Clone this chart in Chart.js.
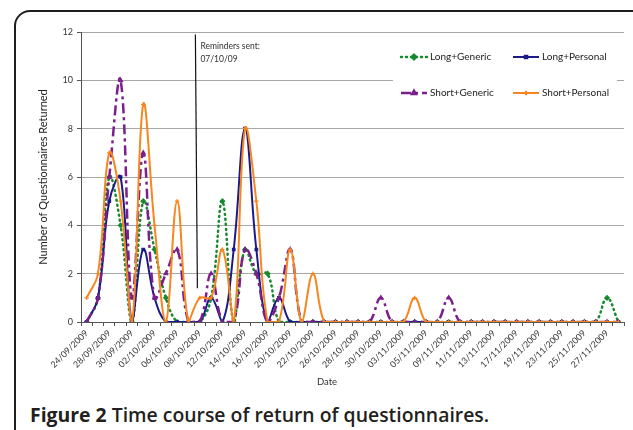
<!DOCTYPE html>
<html>
<head>
<meta charset="utf-8">
<script src="https://cdn.jsdelivr.net/npm/chart.js@4.4.1/dist/chart.umd.min.js"></script>
<style>
  html, body { margin: 0; padding: 0; width: 633px; height: 430px; overflow: hidden; background: #fff; }
  #frame { position: absolute; left: 14px; top: 10px; width: 700px; height: 520px; border: 2px solid #1e1e1e; border-radius: 16px; }
  #wrap { position: absolute; left: 0; top: 0; width: 633px; height: 400px; }
  #caption { position: absolute; left: 30px; top: 401px; font-family: "Open Sans"; font-size: 19.4px; font-weight: 600; color: #231f20; white-space: nowrap; }
  #caption b { font-weight: 700; }
</style>
</head>
<body>
<div id="frame"></div>
<div id="wrap"><canvas id="returnsChart" width="633" height="400"></canvas></div>
<div id="caption"><b>Figure 2</b> Time course of return of questionnaires.</div>
<script>
// working days on the category axis, only every second one is labelled
var dates = ['24/09/2009', '25/09/2009', '28/09/2009', '29/09/2009', '30/09/2009',
  '01/10/2009', '02/10/2009', '05/10/2009', '06/10/2009', '07/10/2009', '08/10/2009', '09/10/2009',
  '12/10/2009', '13/10/2009', '14/10/2009', '15/10/2009', '16/10/2009', '19/10/2009', '20/10/2009',
  '21/10/2009', '22/10/2009', '23/10/2009', '26/10/2009', '27/10/2009', '28/10/2009', '29/10/2009',
  '30/10/2009', '02/11/2009', '03/11/2009', '04/11/2009', '05/11/2009', '06/11/2009', '09/11/2009',
  '10/11/2009', '11/11/2009', '12/11/2009', '13/11/2009', '16/11/2009', '17/11/2009', '18/11/2009',
  '19/11/2009', '20/11/2009', '23/11/2009', '24/11/2009', '25/11/2009', '26/11/2009', '27/11/2009',
  '30/11/2009'];
var labelEvery = 2;

var longGeneric   = [0,1,6,4,0,5,3,1,0,0, 0,1,5,0,3,2,2,0,0,0, 0,0,0,0,0,0,0,0,0,0, 0,0,0,0,0,0,0,0,0,0, 0,0,0,0,0,0,1,0];
var longPersonal  = [0,1,5,6,0,3,1,0,0,0, 0,1,0,3,8,3,0,1,0,0, 0,0,0,0,0,0,0,0,0,0, 0,0,0,0,0,0,0,0,0,0, 0,0,0,0,0,0,0,0];
var shortGeneric  = [0,1,6,10,1,7,1,2,3,0, 0,2,0,0,3,2,0,1,3,0, 0,0,0,0,0,0,1,0,0,0, 0,0,1,0,0,0,0,0,0,0, 0,0,0,0,0,0,0,0];
var shortPersonal = [1,2,7,5,0,9,4,0,5,0, 1,1,3,0,8,5,0,0,3,0, 2,0,0,0,0,0,0,0,0,1, 0,0,0,0,0,0,0,0,0,0, 0,0,0,0,0,0,0,0];

var yTicks = [0, 2, 4, 6, 8, 10, 12];

// reminder annotation (category index, value range)
var reminder = { at: 9.7, from: 1.4, to: 11.9, text: ['Reminders sent:', '07/10/09'] };

Chart.defaults.font.family = 'Lato';

var series = [
  { label: 'Long+Generic', data: longGeneric, color: '#168a2e', dash: [1, 4], cap: 'round', width: 2.5, style: 'rectRot', r: 2.2, order: 4 },
  { label: 'Long+Personal', data: longPersonal, color: '#1a1a88', dash: [], cap: 'butt', width: 2, style: 'rect', r: 1.8, order: 3 },
  { label: 'Short+Generic', data: shortGeneric, color: '#7a1f8c', dash: [10, 4, 3, 4], cap: 'butt', width: 2.5, style: 'triangle', r: 2.2, order: 2 },
  { label: 'Short+Personal', data: shortPersonal, color: '#f7861f', dash: [], cap: 'butt', width: 2, style: 'cross', r: 2.2, order: 1 }
];

var overlay = {
  id: 'overlay',
  afterDraw: function(chart) {
    var ctx = chart.ctx, x = chart.scales.x, y = chart.scales.y, area = chart.chartArea;
    ctx.save();
    // reminder line
    var rx = x.getPixelForValue(reminder.at);
    ctx.strokeStyle = '#111';
    ctx.lineWidth = 1.2;
    ctx.beginPath();
    ctx.moveTo(rx - 1, y.getPixelForValue(reminder.to));
    ctx.lineTo(rx + 1, y.getPixelForValue(reminder.from));
    ctx.stroke();
    ctx.fillStyle = '#333';
    ctx.font = '8.5px Lato';
    ctx.textBaseline = 'middle';
    ctx.fillText(reminder.text[0], rx + 4, 46);
    ctx.fillText(reminder.text[1], rx + 4, 59);

    // legend box, 2 x 2
    var lx = area.right - 231, ly = 46;
    ctx.fillStyle = '#fff';
    ctx.fillRect(lx, ly, 224, 64);
    ctx.font = '10px Lato';
    series.forEach(function(s, i) {
      var col = i % 2, row = Math.floor(i / 2);
      var sx = lx + 8 + col * 112, sy = 57 + row * 36;
      ctx.strokeStyle = s.color;
      ctx.lineWidth = s.width;
      ctx.lineCap = s.cap;
      ctx.setLineDash(s.dash);
      ctx.beginPath();
      ctx.moveTo(sx, sy);
      ctx.lineTo(sx + 26, sy);
      ctx.stroke();
      ctx.setLineDash([]);
      ctx.lineCap = 'butt';
      ctx.fillStyle = s.color;
      Chart.helpers.drawPoint(ctx, { pointStyle: s.style, radius: s.r, rotation: 0, borderWidth: 1.2 }, sx + 13, sy);
      ctx.fillStyle = '#222';
      ctx.fillText(s.label, sx + 29, sy);
    });

    // x axis title, placed like the original
    ctx.font = '9.5px Lato';
    ctx.textAlign = 'center';
    ctx.fillStyle = '#333';
    ctx.fillText('Date', 327, 382);
    ctx.restore();
  }
};

var chart = new Chart(document.getElementById('returnsChart').getContext('2d'), {
  type: 'line',
  data: {
    labels: dates,
    datasets: series.map(function(s) {
      return {
        label: s.label,
        data: s.data,
        borderColor: s.color,
        backgroundColor: s.color,
        borderWidth: s.width,
        borderDash: s.dash,
        borderCapStyle: s.cap,
        tension: 0.4,
        pointStyle: s.style,
        pointRadius: s.r,
        pointBorderWidth: 1.2,
        pointBorderColor: s.color,
        pointBackgroundColor: s.color,
        order: s.order,
        fill: false
      };
    })
  },
  options: {
    responsive: false,
    animation: false,
    layout: { padding: { top: 32, right: 9 } },
    plugins: { legend: { display: false }, tooltip: { enabled: false } },
    scales: {
      x: {
        offset: true,
        grid: { display: true, drawOnChartArea: false, offset: true, tickLength: 4, tickColor: '#555' },
        border: { color: '#555' },
        ticks: {
          autoSkip: false, minRotation: 45, maxRotation: 45, padding: 2,
          color: '#333', font: { size: 8.8 },
          callback: function(v, i) { return i % labelEvery === 0 && i < dates.length - 1 ? dates[i] : ''; }
        },
        afterFit: function(scale) { scale.height = 78; }
      },
      y: {
        min: 0, max: 12,
        afterBuildTicks: function(scale) { scale.ticks = yTicks.map(function(v) { return { value: v }; }); },
        grid: { color: '#a8a8a8', tickLength: 4, tickColor: '#555' },
        border: { color: '#555' },
        ticks: { color: '#333', font: { size: 9 }, padding: 4 },
        title: { display: true, text: 'Number of Questionnaires Returned', color: '#222', font: { size: 11 }, padding: { top: 37, bottom: 0 } },
        afterFit: function(scale) { scale.width = 81; }
      }
    }
  },
  plugins: [overlay]
});
</script>
</body>
</html>
